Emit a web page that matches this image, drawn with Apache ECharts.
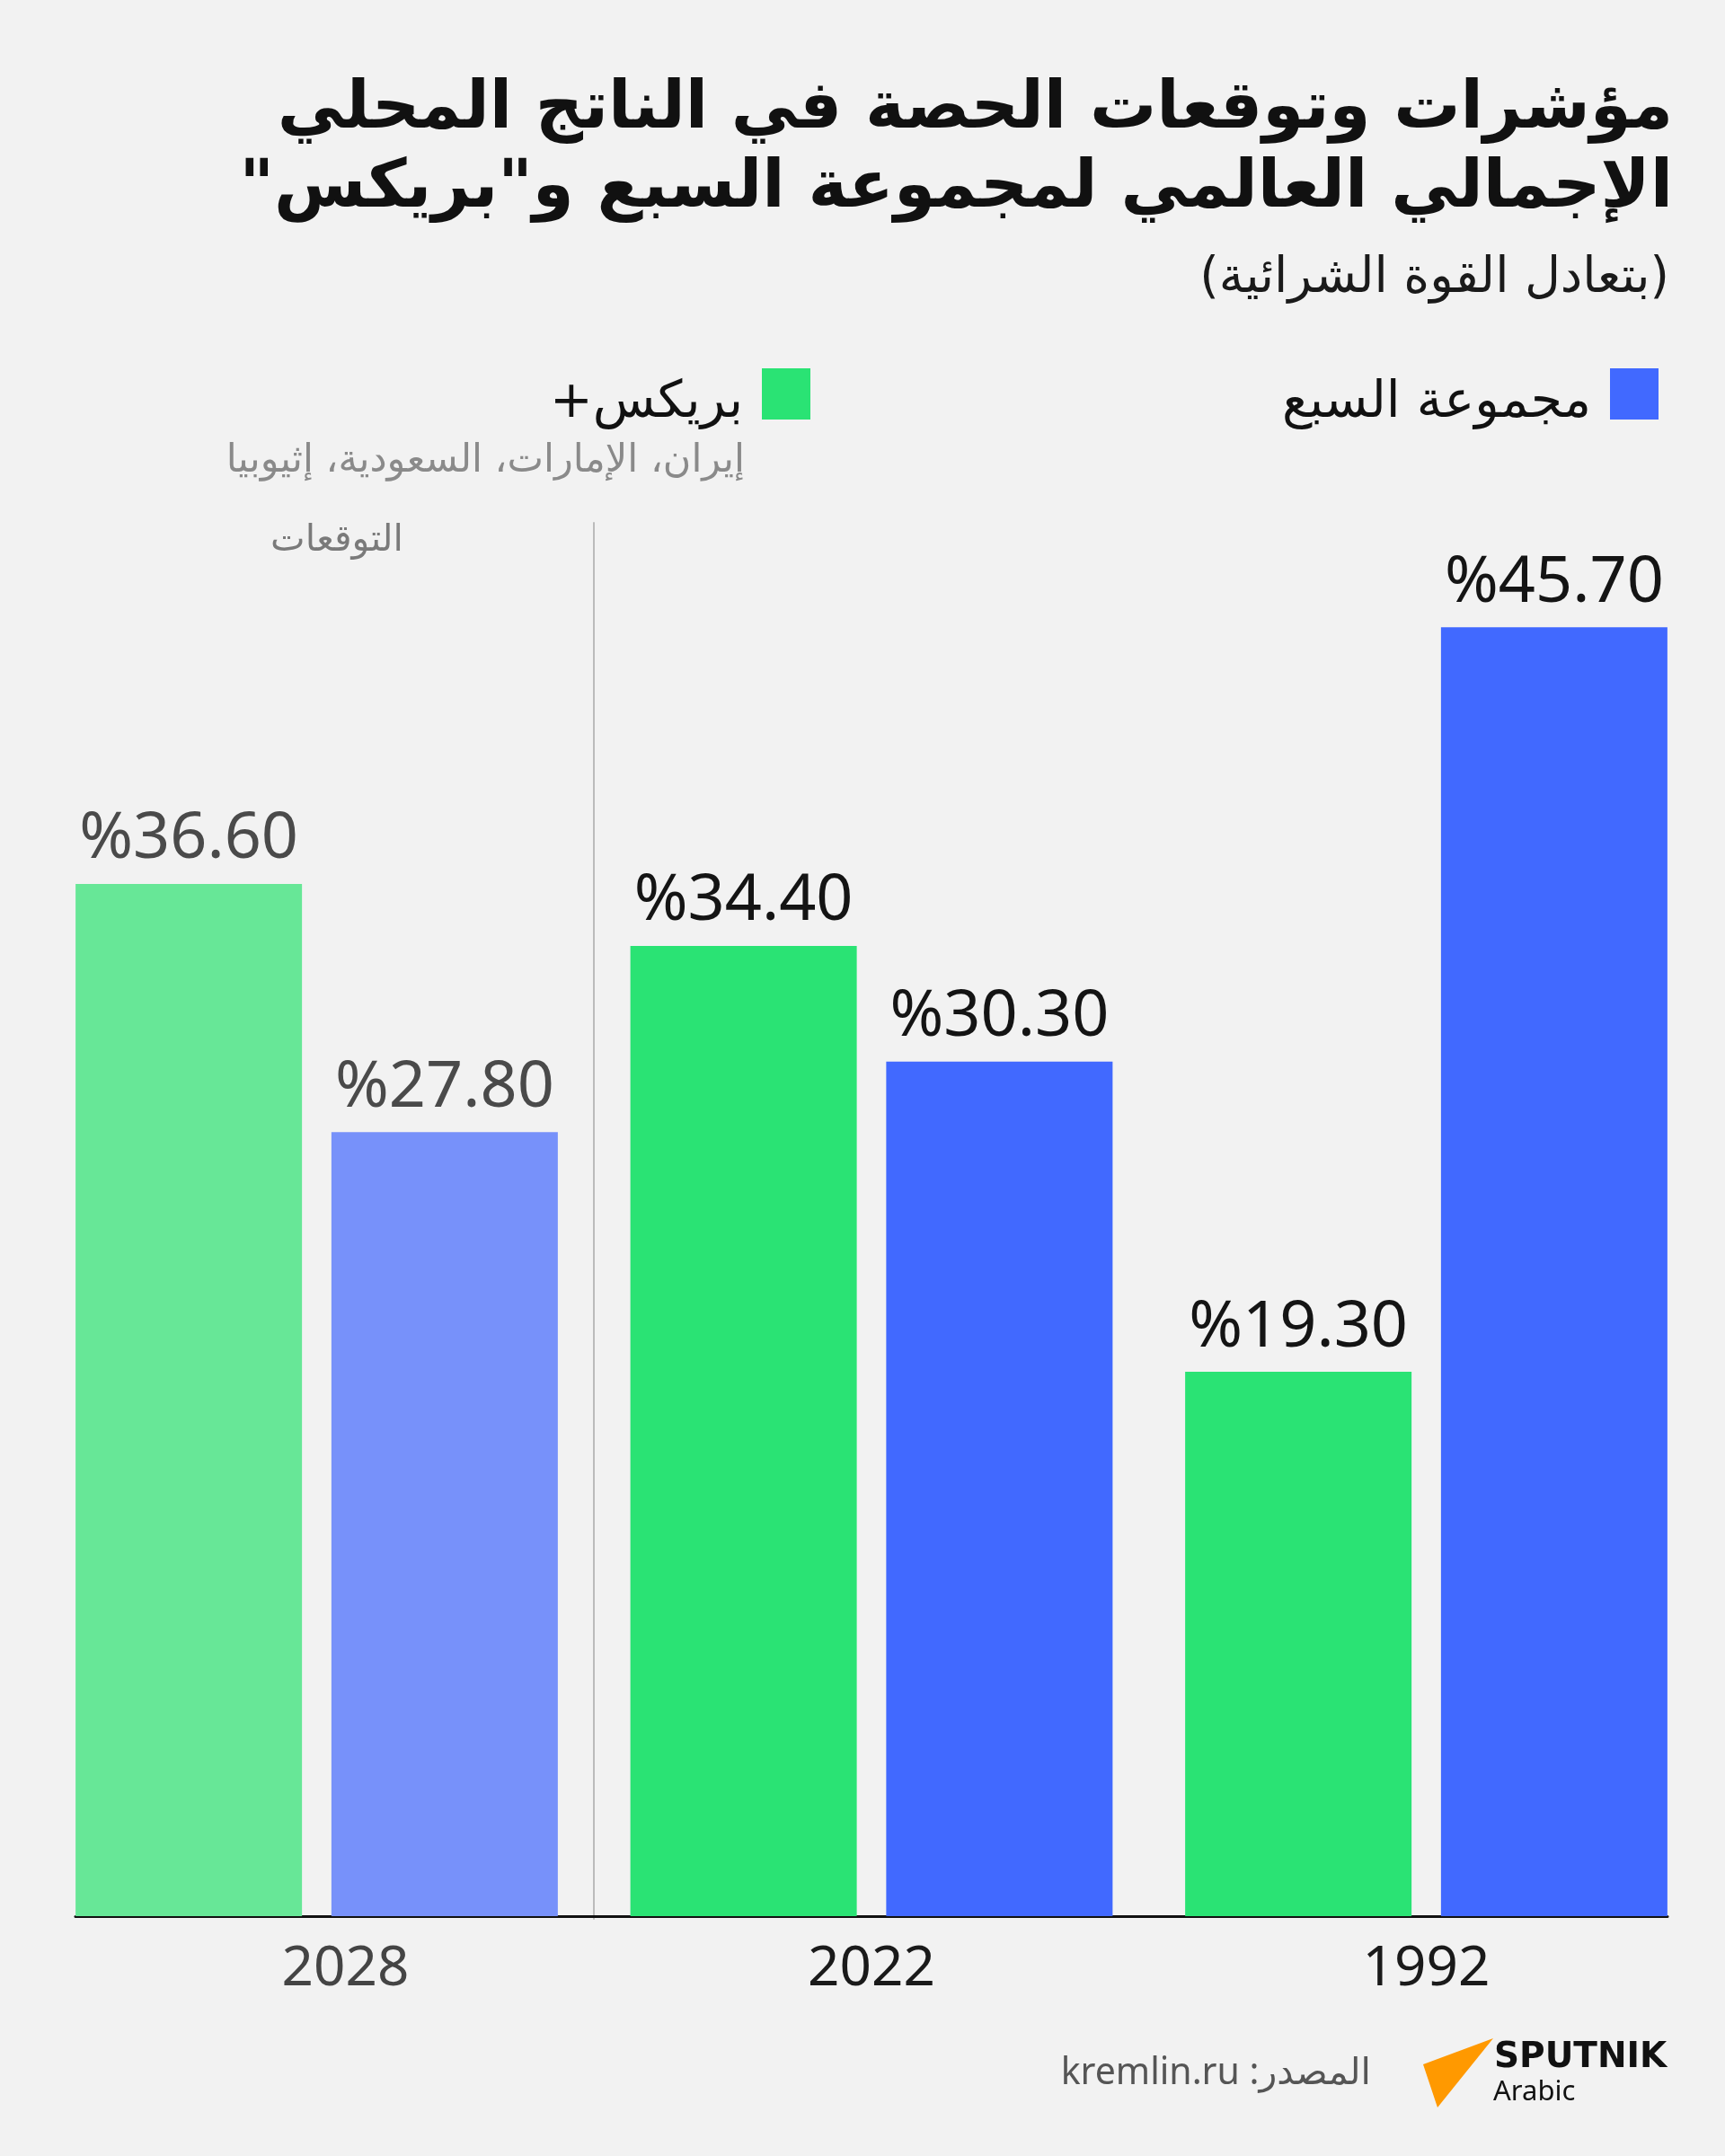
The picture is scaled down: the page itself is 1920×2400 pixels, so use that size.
<!DOCTYPE html>
<html>
<head>
<meta charset="utf-8">
<script src="https://cdn.jsdelivr.net/npm/echarts@6/dist/echarts.min.js"></script>
<style>
html,body{margin:0;padding:0;background:#f2f2f2;}
#chart{width:1920px;height:2400px;}
</style>
</head>
<body>
<div id="chart"></div>
<script>
// ---- data ----
const categories = ['2028', '2022', '1992'];
const isForecast = [true, false, false];
const bricsValues = [36.6, 34.4, 19.3];
const g7Values = [27.8, 30.3, 45.7];
const seriesNames = ['بريكس+\u200F', 'مجموعة السبع'];
const titleLine1 = 'مؤشرات وتوقعات الحصة في الناتج المحلي';
const titleLine2 = 'الإجمالي العالمي لمجموعة السبع و"بريكس"\u200F';
const subtitleText = '(بتعادل القوة الشرائية)';
const bricsNote = 'إيران، الإمارات، السعودية، إثيوبيا';
const forecastText = 'التوقعات';
const sourceText = 'kremlin.ru :المصدر';

// ---- styles ----
const F = '"Noto Sans", "DejaVu Sans", sans-serif';
const FA = '"DejaVu Sans", "Noto Sans", sans-serif';
const colors = {
  brics: '#2ae374', bricsLight: '#67e797',
  g7: '#4169ff', g7Light: '#7791fa'
};
const labelDark = '#141414', labelLight = '#4a4a4a';

function buildData(values, main, light) {
  return values.map((v, i) => ({
    value: v,
    itemStyle: { color: isForecast[i] ? light : main },
    label: { color: isForecast[i] ? labelLight : labelDark }
  }));
}

const barLabel = {
  show: true,
  position: 'top',
  distance: 13,
  fontSize: 72,
  fontFamily: F,
  formatter: p => '%' + p.value.toFixed(2)
};

const legendText = {
  fontSize: 57, color: '#111', fontFamily: FA, padding: [0, 16, 0, 0],
  rich: { t: { fontSize: 57, color: '#111', fontFamily: FA, padding: [22, 0, 0, 0] } }
};

const chart = echarts.init(document.getElementById('chart'), null, { renderer: 'canvas' });
const option = {
  backgroundColor: '#f2f2f2',
  animation: false,
  title: [
    { text: titleLine1, right: 58, top: 86, padding: 0, textStyle: { fontSize: 74, fontWeight: 'bold', color: '#111', fontFamily: FA } },
    { text: titleLine2, right: 58, top: 174, padding: 0, textStyle: { fontSize: 74, fontWeight: 'bold', color: '#111', fontFamily: FA } },
    { text: subtitleText, right: 62, top: 283, padding: 0, textStyle: { fontSize: 55, fontWeight: 'normal', color: '#1a1a1a', fontFamily: FA } },
    { text: bricsNote, right: 1091, top: 492, padding: 0, textStyle: { fontSize: 43, fontWeight: 'normal', color: '#8a8a8a', fontFamily: FA } },
    { text: forecastText, left: 375, textAlign: 'center', top: 582, padding: 0, textStyle: { fontSize: 41, fontWeight: 'normal', color: '#7a7a7a', fontFamily: FA } },
    { text: sourceText, right: 394, top: 2288, padding: 0, textStyle: { fontSize: 41, fontWeight: 'normal', color: '#555', fontFamily: F } }
  ],
  legend: [
    { data: [seriesNames[1]], right: 69, top: 405, icon: 'rect', itemWidth: 54, itemHeight: 57, align: 'right',
      formatter: n => '{t|' + n + '}', textStyle: legendText },
    { data: [seriesNames[0]], right: 1013, top: 405, icon: 'rect', itemWidth: 54, itemHeight: 57, align: 'right',
      formatter: n => '{t|' + n + '}', textStyle: legendText }
  ],
  grid: [
    { left: 43.75, right: 23.75, top: 582, bottom: 267 },
    { left: 84, right: 64, top: 582, bottom: 267 },
    { left: 43.75, right: 1259.25, top: 582, bottom: 264 }
  ],
  xAxis: [
    {
      type: 'category',
      data: categories.map((c, i) => ({
        value: c,
        textStyle: i === 0 ? { padding: [0, 0, 0, 64], color: '#444' } : { color: '#1a1a1a' }
      })),
      axisLine: { show: false },
      axisTick: { show: false },
      axisLabel: { fontSize: 62, margin: 28, fontFamily: F },
      splitLine: { show: false }
    },
    {
      type: 'category', gridIndex: 1, data: [''],
      axisLine: { show: true, lineStyle: { color: '#111', width: 3 } },
      axisTick: { show: false }, axisLabel: { show: false }, offset: 2
    },
    { type: 'category', gridIndex: 2, data: [''], show: false }
  ],
  yAxis: [
    { type: 'value', min: 0, max: 49.4, show: false },
    { type: 'value', gridIndex: 1, min: 0, max: 1, show: false },
    { type: 'value', gridIndex: 2, min: 0, max: 1, position: 'right',
      axisLine: { show: true, lineStyle: { color: '#bbbbbb', width: 2 } },
      axisTick: { show: false }, axisLabel: { show: false }, splitLine: { show: false } }
  ],
  series: [
    { name: seriesNames[0], type: 'bar', barWidth: 252, barGap: '13%',
      itemStyle: { color: colors.brics },
      label: barLabel,
      data: buildData(bricsValues, colors.brics, colors.bricsLight) },
    { name: seriesNames[1], type: 'bar', barWidth: 252, barGap: '13%',
      itemStyle: { color: colors.g7 },
      label: barLabel,
      data: buildData(g7Values, colors.g7, colors.g7Light) }
  ],
  graphic: [
    { type: 'polygon', shape: { points: [[1662, 2269], [1584, 2298], [1600, 2346]] }, style: { fill: '#ff9900' } },
    { type: 'text', left: 1663, top: 2271, style: { text: 'SPUTNIK', fontSize: 39, fontWeight: 'bold', fontFamily: '"DejaVu Sans", sans-serif', fill: '#111' } },
    { type: 'text', left: 1662, top: 2314, style: { text: 'Arabic', fontSize: 31, fontFamily: F, fill: '#111' } }
  ]
};
chart.setOption(option);
</script>
</body>
</html>
